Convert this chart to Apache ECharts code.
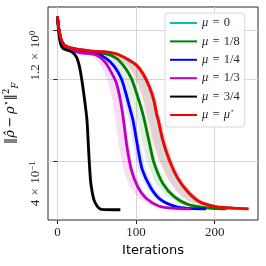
<!DOCTYPE html>
<html><head><meta charset="utf-8">
<script src="https://cdn.jsdelivr.net/npm/echarts@6/dist/echarts.min.js"></script>
<style>html,body{margin:0;padding:0;background:#fff}#c{width:266px;height:266px}</style>
</head><body><div id="c"></div>
<script>
// ---- data ----
const xTicks = [0, 100, 200];
const yTicks = [0.4, 0.8, 1.2];
const seriesNames = ['μ = 0', 'μ = 1/8', 'μ = 1/4', 'μ = 1/3', 'μ = 3/4', 'μ = μ*'];
const seriesColors = ['#00bfbf', '#008000', '#0000ff', '#bf00bf', '#000000', '#ff0000'];

// mu = 0 (hidden under mu*)
const cyanIt   = [0, 2, 5, 9, 15.5, 28, 41, 58, 75, 87, 100, 108.4, 116.8, 122.4, 126.3, 128.2, 133.9, 142.2, 152.8, 165.4, 180, 201, 231, 243];
const cyanVal  = [1.351, 1.207, 1.110, 1.064, 1.040, 1.025, 1.012, 1.006, 0.987, 0.951, 0.900, 0.839, 0.749, 0.670, 0.591, 0.566, 0.478, 0.404, 0.347, 0.310, 0.285, 0.273, 0.269, 0.268];
const cyanLo   = [0, 2, 5, 9, 15, 27, 39, 53, 67, 77, 89, 97, 105, 110, 114, 116, 122, 130, 141, 153, 168, 190, 220, 232];
const cyanHi   = [0, 2, 5, 9, 16, 29, 43, 61, 78, 90, 103, 111.5, 120, 125.5, 129.5, 131.5, 137, 145.5, 156, 169, 184, 206, 236, 245];

// mu = 1/8
const greenIt  = [0, 2, 5, 9, 15.5, 28, 41, 62, 75, 85, 94, 100, 106, 110.5, 117, 123, 134, 148.5, 167.5, 197, 215];
const greenVal = [1.351, 1.207, 1.105, 1.060, 1.038, 1.020, 1.001, 0.987, 0.951, 0.887, 0.804, 0.718, 0.633, 0.566, 0.465, 0.393, 0.332, 0.297, 0.277, 0.269, 0.268];
const greenLo  = [0, 2, 5, 9, 15, 27, 38, 56, 67, 76, 85, 91, 97, 101.5, 108, 114, 125, 140, 159, 189, 207];
const greenHi  = [0, 2, 5, 9, 16, 29, 43, 65, 78, 88, 97, 103, 109, 113.5, 120, 126, 137, 151.5, 170.5, 200, 216];

// mu = 1/4
const blueIt   = [0, 2, 5, 9, 15.5, 28, 49, 62, 72.5, 81, 87, 91.5, 96, 102, 108, 119, 131.6, 150.6, 167.5, 189];
const blueVal  = [1.351, 1.207, 1.100, 1.055, 1.032, 1.012, 0.992, 0.951, 0.887, 0.804, 0.709, 0.633, 0.566, 0.452, 0.372, 0.319, 0.289, 0.273, 0.269, 0.268];
const blueLo   = [0, 2, 5, 9, 15, 27, 45, 57, 67.5, 76, 82, 86.5, 91, 97, 103, 114, 126.6, 145.6, 162.5, 184];
const blueHi   = [0, 2, 5, 9, 16, 29, 52, 66, 76.5, 85, 91, 95.5, 100, 106, 112, 123, 135.6, 154.6, 171.5, 190];

// mu = 1/3
const purpleIt  = [0, 2, 5, 9, 15.5, 28, 49, 60, 68, 75, 80, 84, 88.4, 94, 102, 112.7, 129.5, 150.6, 169.6];
const purpleVal = [1.351, 1.207, 1.095, 1.045, 1.020, 0.998, 0.978, 0.925, 0.850, 0.771, 0.670, 0.566, 0.452, 0.372, 0.323, 0.293, 0.274, 0.269, 0.268];
const purpleLo  = [0, 2, 5, 9, 15, 27, 43, 52, 59, 65, 70, 74, 78.4, 84, 92, 103, 120, 141, 160];
const purpleHi  = [0, 2, 5, 9, 16, 29, 52, 63, 71, 78, 83, 87, 91.4, 97, 105, 115.7, 132.5, 153.6, 170.6];

// mu = 3/4
const blackIt  = [0, 1.6, 3.8, 7, 17.7, 24, 28, 31.6, 34.5, 37.5, 39.6, 41.5, 43, 47.2, 55.7, 80];
const blackVal = [1.351, 1.190, 1.079, 1.035, 1.006, 0.964, 0.887, 0.771, 0.670, 0.566, 0.440, 0.356, 0.323, 0.285, 0.267, 0.266];
const blackLo  = [0, 1.6, 3.8, 7, 16.5, 22.5, 26.5, 30, 33, 36, 38.1, 40, 41.5, 45.7, 54.2, 79];
const blackHi  = [0, 1.6, 3.8, 7, 19, 26, 30.5, 34, 37, 40, 42.1, 44, 45.5, 49.7, 58.2, 80];

// mu = mu*
const redIt  = [0, 2, 5, 9, 15.5, 28, 41, 58, 75, 87, 100, 108.4, 116.8, 122.4, 126.3, 128.2, 133.9, 142.2, 152.8, 165.4, 180, 201, 231, 243];
const redVal = [1.351, 1.207, 1.110, 1.064, 1.040, 1.025, 1.012, 1.006, 0.987, 0.951, 0.900, 0.839, 0.749, 0.670, 0.591, 0.566, 0.478, 0.404, 0.347, 0.310, 0.285, 0.273, 0.269, 0.268];
const redLo  = [0, 2, 5, 9, 15, 26, 37, 51, 65, 75, 87, 95, 103, 108.5, 112.5, 114.5, 120, 128.5, 139, 151, 166, 187, 217, 229];
const redHi  = [0, 2, 5, 9, 16, 30, 44, 62, 79, 91, 104, 112, 121, 126, 130, 132, 138, 146, 157, 170, 186, 208, 238, 244];

// ---- chart ----
const curves = [
  [cyanIt, cyanVal, cyanLo, cyanHi],
  [greenIt, greenVal, greenLo, greenHi],
  [blueIt, blueVal, blueLo, blueHi],
  [purpleIt, purpleVal, purpleLo, purpleHi],
  [blackIt, blackVal, blackLo, blackHi],
  [redIt, redVal, redLo, redHi]
];
const bandAlpha = [0.14, 0.12, 0.12, 0.13, 0.12, 0.14];
function hexA(hex, a) {
  const n = parseInt(hex.slice(1), 16);
  return 'rgba(' + (n >> 16) + ',' + ((n >> 8) & 255) + ',' + (n & 255) + ',' + a + ')';
}
const SERIF = '"Liberation Serif", "DejaVu Serif", serif';
const DSERIF = '"DejaVu Serif", serif';
const series = [];
curves.forEach((c, k) => {
  const [its, vals, lo, hi] = c;
  const poly = [];
  for (let i = 0; i < its.length; i++) poly.push([lo[i], vals[i]]);
  for (let i = its.length - 1; i >= 0; i--) poly.push([hi[i], vals[i]]);
  series.push({
    type: 'custom', name: 'band' + k, data: poly, z: 1, silent: true,
    renderItem(params, api) {
      if (params.dataIndex !== 0) return null;
      const pts = poly.map(p => api.coord(p));
      return { type: 'polygon', shape: { points: pts }, style: { fill: hexA(seriesColors[k], bandAlpha[k]) } };
    }
  });
});
curves.forEach((c, k) => {
  const [its, vals] = c;
  series.push({
    type: 'line', name: seriesNames[k], z: 3 + k,
    data: its.map((t, i) => [t, vals[i]]),
    symbol: 'none', smooth: 0.3,
    lineStyle: { color: seriesColors[k], width: 2.8 },
    itemStyle: { color: seriesColors[k] }
  });
});

function yLabel(v) {
  if (Math.abs(v - 1.2) < 1e-6) return '{n|1.2\u2004×\u200410}{sup|0}';
  if (Math.abs(v - 0.4) < 1e-6) return '{n|4\u2004×\u200410}{sup|\u22121}';
  return '';
}

const chart = echarts.init(document.getElementById('c'), null, { renderer: 'canvas' });
chart.setOption({
  animation: false,
  backgroundColor: '#fff',
  grid: { left: 48, right: 8, top: 7, bottom: 46, show: true, borderColor: '#262626', borderWidth: 1, containLabel: false, outerBoundsMode: 'none' },
  xAxis: {
    type: 'value', min: -12, max: 255,
    name: 'Iterations', nameLocation: 'middle', nameGap: 23,
    nameTextStyle: { fontFamily: '"DejaVu Sans", sans-serif', fontSize: 13, color: '#000' },
    axisLine: { show: false },
    axisTick: { show: true, length: 4, customValues: xTicks, lineStyle: { color: '#262626' } },
    axisLabel: { customValues: xTicks, margin: 6, fontFamily: SERIF, fontSize: 13, color: '#262626' },
    splitLine: { show: true, lineStyle: { color: '#d6d6d6', width: 1 } }
  },
  yAxis: {
    type: 'log', logBase: 10, min: 0.244, max: 1.465,
    name: '{n|‖}{ni|ρ̂}{n|\u2009−\u2009}{ni|ρ}{sup|⋆}{n|‖}{sup|2}{sub|F}',
    nameLocation: 'middle', nameRotate: 90, nameGap: 28,
    nameTextStyle: {
      fontFamily: DSERIF, fontSize: 13, color: '#000',
      rich: {
        n: { fontFamily: DSERIF, fontSize: 13, lineHeight: 18 },
        ni: { fontFamily: DSERIF, fontSize: 13, fontStyle: 'italic', lineHeight: 18 },
        sup: { fontFamily: DSERIF, fontSize: 8.5, verticalAlign: 'top', lineHeight: 9 },
        sub: { fontFamily: DSERIF, fontSize: 8.5, fontStyle: 'italic', verticalAlign: 'bottom', lineHeight: 9 }
      }
    },
    axisLine: { show: false },
    axisTick: { show: true, length: 4, customValues: yTicks, lineStyle: { color: '#262626' } },
    axisLabel: {
      customValues: yTicks, rotate: 90, margin: 4, align: 'right', verticalAlign: 'bottom',
      formatter: yLabel, color: '#262626',
      rich: {
        n: { fontFamily: SERIF, fontSize: 13, lineHeight: 16, color: '#262626' },
        sup: { fontFamily: SERIF, fontSize: 9, verticalAlign: 'top', lineHeight: 9, color: '#262626' }
      }
    },
    splitLine: { show: true, lineStyle: { color: '#d6d6d6', width: 1 } }
  },
  legend: {
    data: seriesNames, orient: 'vertical', left: 165, top: 13,
    padding: [3, 5, 5, 5], itemGap: 4.4, itemWidth: 27, itemHeight: 2, itemTextGap: 8,
    icon: 'rect',
    backgroundColor: 'rgba(255,255,255,0.85)', borderColor: '#d8d8d8', borderWidth: 1, borderRadius: 3,
    formatter: name => name.replace(/μ/g, '{i|μ}').replace('*', '{s|⋆}').replace(' = ', '{n|\u2004=\u2004}'),
    textStyle: {
      fontFamily: SERIF, fontSize: 12.5, color: '#262626', lineHeight: 14,
      rich: {
        i: { fontFamily: SERIF, fontSize: 12.5, fontStyle: 'italic', lineHeight: 14 },
        n: { fontFamily: SERIF, fontSize: 12.5, lineHeight: 14 },
        s: { fontFamily: '"DejaVu Sans", sans-serif', fontSize: 7, verticalAlign: 'top', lineHeight: 7 }
      }
    }
  },
  series: series
});
</script>
</body></html>
